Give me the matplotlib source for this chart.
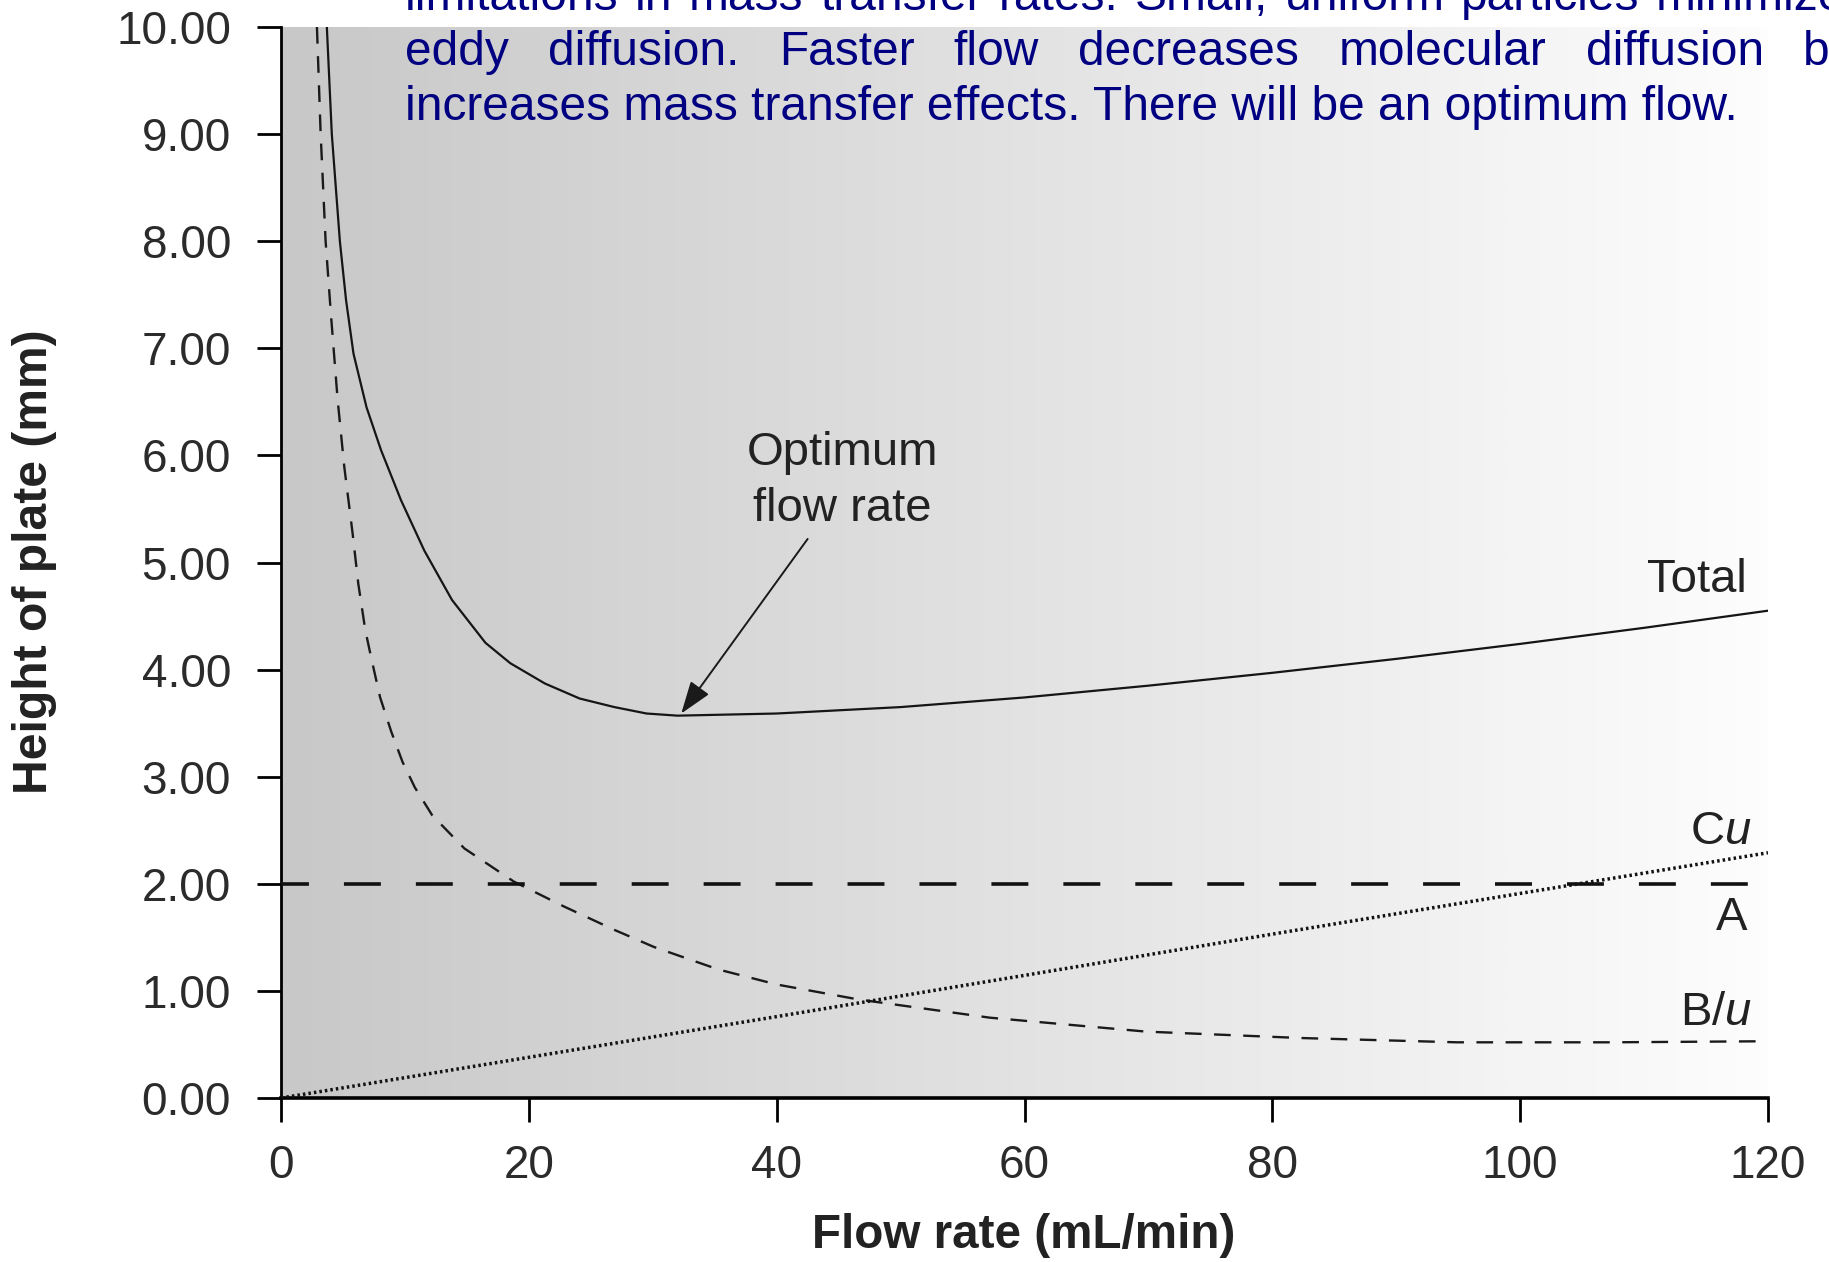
import numpy as np
import matplotlib
matplotlib.use("Agg")
import matplotlib.pyplot as plt
from matplotlib.colors import LinearSegmentedColormap

plt.rcParams['font.family'] = ['Liberation Sans', 'DejaVu Sans']
plt.rcParams['mathtext.fontset'] = 'custom'
plt.rcParams['mathtext.rm'] = 'Liberation Sans'
plt.rcParams['mathtext.it'] = 'Liberation Sans:italic'
plt.rcParams['lines.scale_dashes'] = False

# values
total_u = [3.7, 4.1, 4.75, 5.25, 5.85, 6.9, 8.07, 9.69, 11.57, 13.8, 16.5, 18.5,
           21.3, 24.1, 26.9, 29.5, 32.0, 36, 40, 50, 60, 70, 80, 90, 100, 110, 120]
total_h = [10.0, 9.0, 8.0, 7.45, 6.95, 6.45, 6.05, 5.58, 5.11, 4.65, 4.25, 4.06,
           3.87, 3.73, 3.65, 3.59, 3.57, 3.58, 3.59, 3.65, 3.74, 3.85, 3.97, 4.10,
           4.24, 4.39, 4.55]

bu_u = [2.9, 3.2, 3.6, 4.04, 4.57, 5.11, 5.78, 6.24, 6.8, 7.3, 8.0, 8.9, 9.8, 10.8,
        12.2, 14.8, 18.8, 22.8, 26.9, 30.1, 35.3, 40, 46.6, 57.2, 69.8, 82.3,
        94.9, 107.4, 120]
bu_h = [10.0, 9.0, 8.0, 7.3, 6.52, 5.89, 5.27, 4.80, 4.37, 4.1, 3.74, 3.42, 3.14,
        2.9, 2.64, 2.33, 2.02, 1.79, 1.57, 1.41, 1.20, 1.06, 0.92, 0.75, 0.62,
        0.56, 0.52, 0.52, 0.53]

cu_u = [0, 40, 80, 120]
cu_h = [0.0, 0.76, 1.53, 2.29]

a_u = [0, 120]
a_h = [2.0, 2.0]

x_ticks = [0, 20, 40, 60, 80, 100, 120]
y_ticks = [0, 1, 2, 3, 4, 5, 6, 7, 8, 9, 10]

text_lines = [
    "limitations in mass transfer rates. Small, uniform particles minimize",
    "eddy diffusion. Faster flow decreases molecular diffusion but",
    "increases mass transfer effects. There will be an optimum flow.",
]

W, H = 1829, 1262
fig = plt.figure(figsize=(W / 100, H / 100), dpi=100)
ax = fig.add_axes([281 / W, 1 - 1098 / H, (1768 - 281) / W, (1098 - 27) / H])

# grey -> white background
cmap = LinearSegmentedColormap.from_list('bg', ['#c8c8c8', '#fdfdfd'])
ax.imshow(np.linspace(0, 1, 256).reshape(1, -1), extent=[0, 120, 0, 10],
          aspect='auto', cmap=cmap, zorder=0, interpolation='bilinear')

ax.plot(total_u, total_h, color='#151515', lw=1.6, zorder=3)
ax.plot(bu_u, bu_h, color='#1a1a1a', lw=1.7, dashes=(12, 9), zorder=3)
ax.plot(cu_u, cu_h, color='#111111', lw=2.5, dashes=(1.8, 2.2), zorder=3)
ax.plot(a_u, a_h, color='#111111', lw=2.6, linestyle=(6.5, (26.6, 25.2)), zorder=3)

ax.set_xlim(0, 120)
ax.set_ylim(0, 10)
ax.set_xticks(x_ticks)
ax.set_yticks(y_ticks)
ax.set_yticklabels(["%.2f" % v for v in y_ticks])
for s in ['top', 'right']:
    ax.spines[s].set_visible(False)
ax.spines['left'].set_linewidth(2.0)
ax.spines['bottom'].set_linewidth(2.6)
ax.tick_params(axis='both', direction='out', length=17, width=2.0,
               labelsize=33, labelcolor='#2b2b2b')
ax.tick_params(axis='y', pad=19)
ax.tick_params(axis='x', pad=16)

lab = dict(fontsize=34, color='#222222')
ax.text(118.3, 4.84, "Total", ha='right', va='center', **lab)
ax.text(118.7, 2.48, "C$u$", ha='right', va='center', **lab)
ax.text(118.3, 1.68, "A", ha='right', va='center', **lab)
ax.text(118.7, 0.79, "B/$u$", ha='right', va='center', **lab)
ax.text(45.3, 5.76, "Optimum\nflow rate", ha='center', va='center',
        linespacing=1.35, **lab)
ax.annotate("", xy=(32.3, 3.59), xytext=(42.5, 5.22),
            arrowprops=dict(arrowstyle='-|>,head_length=2.0,head_width=0.7',
                            color='#1a1a1a', lw=1.4, shrinkA=0, shrinkB=0))

fig.text(1024 / W, 1 - 1236 / H, "Flow rate (mL/min)", ha='center', va='center',
         fontsize=34.3, fontweight='bold', color='#222222')
fig.text(35 / W, 1 - 562 / H, "Height of plate (mm)", ha='center', va='center',
         rotation=90, fontsize=34.6, fontweight='bold', color='#222222')

# justified paragraph text at the top (navy)
renderer = fig.canvas.get_renderer()
tkw = dict(fontsize=34.5, color='#000080')


def justify(words, x0, x_last, y):
    widths = []
    for w in words:
        t = fig.text(0, 0, w, **tkw)
        widths.append(t.get_window_extent(renderer).width)
        t.remove()
    gap = (x_last - x0 - sum(widths[:-1])) / (len(words) - 1)
    x = x0
    for w, wd in zip(words, widths):
        fig.text(x / W, 1 - y / H, w, va='baseline', **tkw)
        x += wd + gap


justify(text_lines[0].split(), 405, 1656, 10)
justify(text_lines[1].split(), 405, 1803, 65)
fig.text(405 / W, 1 - 120 / H, text_lines[2], va='baseline', **tkw)

fig.savefig("out.png", dpi=100)
